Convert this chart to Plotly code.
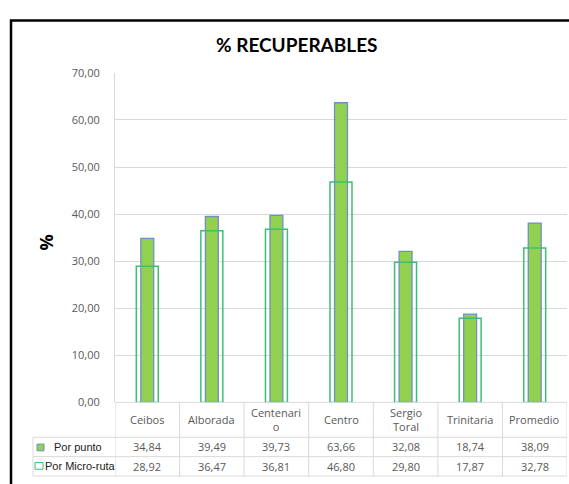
import plotly.graph_objects as go

categories = ["Ceibos", "Alborada", "Centenario", "Centro", "Sergio Toral", "Trinitaria", "Promedio"]
category_labels = ["Ceibos", "Alborada", "Centenari<br>o", "Centro", "Sergio<br>Toral", "Trinitaria", "Promedio"]
por_punto = [34.84, 39.49, 39.73, 63.66, 32.08, 18.74, 38.09]
por_micro_ruta = [28.92, 36.47, 36.81, 46.80, 29.80, 17.87, 32.78]
y_ticks = [0, 10, 20, 30, 40, 50, 60, 70]

W, H = 569, 484
def px(x):
    return x / W
def py(y):
    return (H - y) / H

x_idx = list(range(len(categories)))
GRID = "#d9d9d9"
TXT = "#595959"
FONT = "Open Sans, sans-serif"

fig = go.Figure()
fig.add_trace(go.Bar(
    x=x_idx, y=por_punto, name="Por punto", width=0.2,
    marker=dict(color="#92d050", line=dict(color="#6f8fc7", width=1.3)),
))
fig.add_trace(go.Bar(
    x=x_idx, y=por_micro_ruta, name="Por Micro-ruta", width=0.34,
    marker=dict(color="rgba(0,0,0,0)", line=dict(color="#3cbf72", width=1.5)),
))

shapes = []
# frame
shapes.append(dict(type="rect", xref="paper", yref="paper", x0=px(11), x1=1.02,
                   y0=-0.02, y1=py(13), line=dict(color="black", width=2.5)))
n = len(categories)
# table horizontal lines
for yy in (443, 463, 483):
    shapes.append(dict(type="line", xref="paper", yref="paper", x0=px(33), x1=px(567),
                       y0=py(yy), y1=py(yy), line=dict(color=GRID, width=1)))
shapes.append(dict(type="line", xref="paper", yref="paper", x0=px(115), x1=px(567),
                   y0=py(407), y1=py(407), line=dict(color=GRID, width=1)))
# vertical lines
for i in range(n + 1):
    shapes.append(dict(type="line", xref="x", yref="paper", x0=i - 0.5, x1=i - 0.5,
                       y0=py(483), y1=py(407), line=dict(color=GRID, width=1)))
shapes.append(dict(type="line", xref="paper", yref="paper", x0=px(33), x1=px(33),
                   y0=py(483), y1=py(443), line=dict(color=GRID, width=1)))

def ann(text, x, y, xref="paper", size=11, color=TXT, family=FONT, xanchor="center", **kw):
    return dict(text=text, xref=xref, yref="paper", x=x, y=y, showarrow=False,
                xanchor=xanchor, yanchor="middle",
                font=dict(family=family, size=size, color=color), **kw)

annotations = []
annotations.append(ann("<b>% RECUPERABLES</b>", px(297), py(38), size=19, color="black",
                       family="Lato, Open Sans, sans-serif"))
annotations.append(ann("<b>%</b>", px(45), py(242), size=18, color="black", textangle=-90))
for i, lab in enumerate(category_labels):
    annotations.append(ann(lab, i, py(425), xref="x"))
    annotations.append(ann(f"{por_punto[i]:.2f}".replace(".", ","), i, py(453), xref="x"))
    annotations.append(ann(f"{por_micro_ruta[i]:.2f}".replace(".", ","), i, py(473), xref="x"))
# legend keys in table
shapes.append(dict(type="rect", xref="paper", yref="paper", x0=px(37), x1=px(44),
                   y0=py(457), y1=py(450), fillcolor="#92d050", line=dict(color="#6f8fc7", width=1)))
shapes.append(dict(type="rect", xref="paper", yref="paper", x0=px(35), x1=px(43),
                   y0=py(476), y1=py(469), fillcolor="white", line=dict(color="#3cbf72", width=1)))
annotations.append(ann("Por punto", px(52), py(453), xanchor="left", color="#222",
                       family="Liberation Sans, Arial, sans-serif"))
annotations.append(ann("Por Micro-ruta", px(43), py(473), xanchor="left", color="#222",
                       family="Liberation Sans, Arial, sans-serif"))

fig.update_layout(
    width=W, height=H, margin=dict(l=0, r=0, t=0, b=0),
    paper_bgcolor="white", plot_bgcolor="white",
    barmode="overlay", showlegend=False, separators=",.",
    shapes=shapes, annotations=annotations,
    xaxis=dict(domain=[px(115), px(567)], range=[-0.5, n - 0.5], showticklabels=False,
               showgrid=False, zeroline=False, showline=False, ticks=""),
    yaxis=dict(domain=[py(407), py(67)], range=[0, 70], tickvals=y_ticks, tickformat=".2f",
               showgrid=True, gridcolor=GRID, gridwidth=1, zeroline=False,
               showline=True, linecolor=GRID, linewidth=1, ticks="", ticklabelstandoff=12,
               tickfont=dict(family=FONT, size=11, color=TXT)),
)

fig.write_html("out.html")
